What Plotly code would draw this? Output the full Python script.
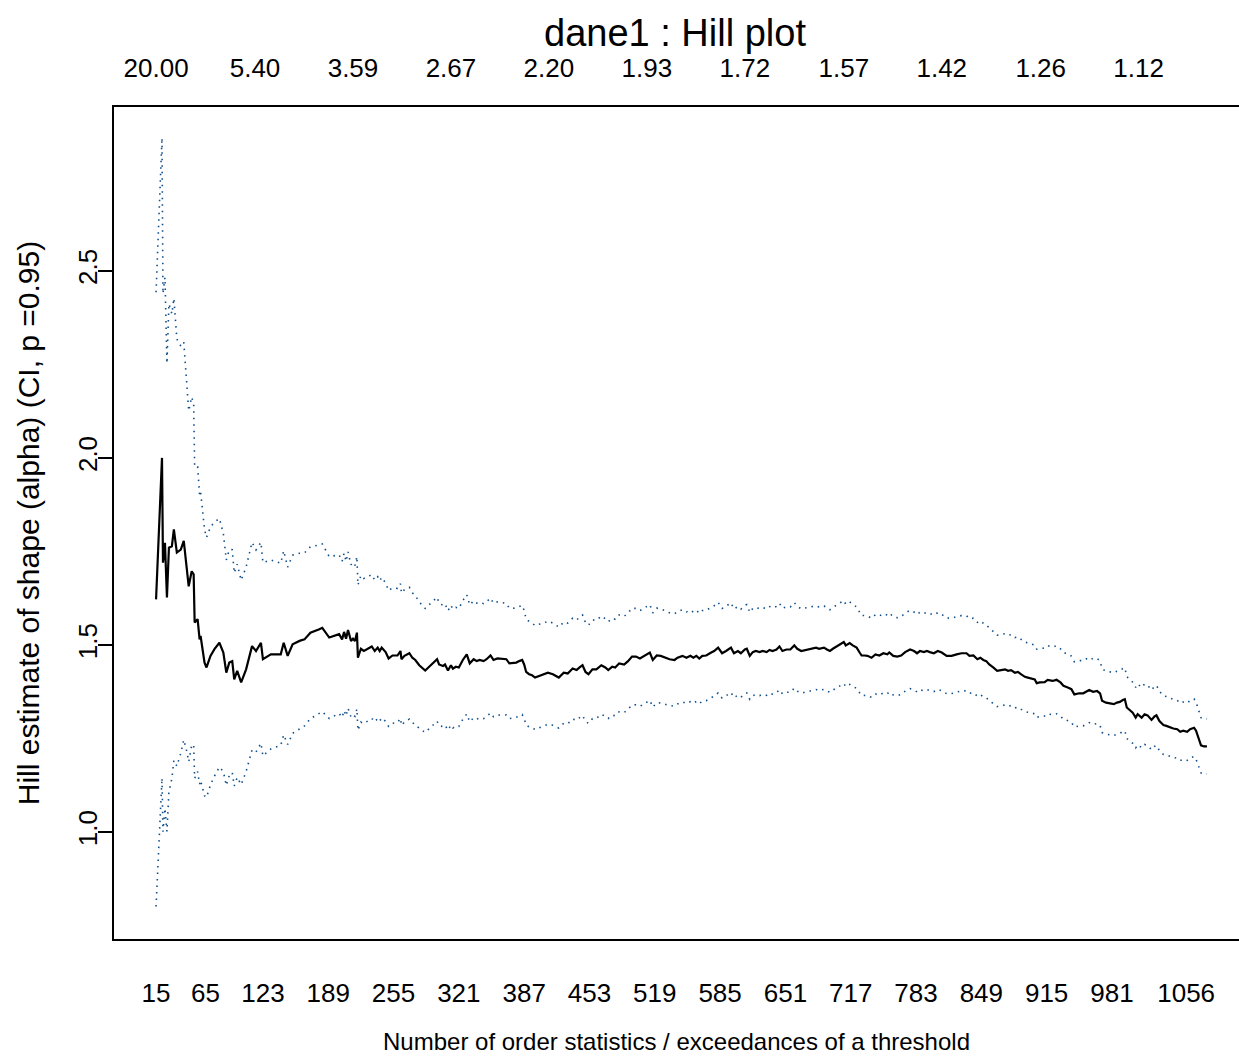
import numpy as np
from statistics import NormalDist
import plotly.graph_objects as go

# Hill estimator of the tail index alpha against the number of order statistics k
k = [15, 21, 22, 24, 26, 28, 31, 33, 36, 40, 43, 46, 48, 51, 53, 54, 57, 59, 60, 64,
     66, 70, 74, 79, 83, 86, 89, 92, 94, 97, 101, 106, 112, 116, 121, 123, 131, 136, 141, 144,
     148, 153, 160, 165, 171, 180, 183, 190,
     200, 203, 205, 207, 209, 212, 214, 216, 218, 219, 222, 225, 229, 233, 236, 239, 241, 243,
     247, 250, 254, 259, 262, 263, 266, 271, 274, 277, 281, 284, 287, 291, 295, 299, 301, 305,
     307, 310, 313, 315, 318, 321, 325, 329, 332, 336, 339, 342, 346, 349, 353, 356, 360, 365,
     369, 372, 375, 379, 382, 385, 387, 389, 392, 395, 398, 402, 406, 411, 416, 419, 422, 427,
     431, 436, 440, 443,
     446, 449, 452, 456, 460, 465, 469, 472, 476, 479, 483, 488, 492, 496, 500, 504, 508, 514,
     517, 521, 525, 530, 534, 539, 542, 547, 551, 555, 558, 561, 564, 567, 571, 576, 579, 583,
     587, 591, 596, 599, 603, 606, 610, 612, 615, 618, 621, 625, 628, 632, 635, 638, 642, 645,
     648, 652, 656, 660, 663, 667, 672, 675,
     678, 682, 685, 690, 693, 696, 699, 703, 706, 710, 712, 716, 719, 723, 726, 728, 731, 734,
     738, 742, 746, 750, 754, 756, 760, 764, 768, 772, 777, 781, 784, 787, 791, 794, 797, 801,
     805, 809, 814, 819, 824, 829, 834, 837, 841, 845, 848, 851, 854, 857, 861, 865, 869, 873,
     876, 879, 883, 886, 889, 893, 896, 899, 903, 905, 908,
     913, 916, 921, 925, 929, 932, 937, 940, 943, 948, 952, 955, 958, 962, 966, 969, 971, 975,
     979, 983, 986, 989, 992, 994, 996, 999, 1002, 1005, 1007, 1011, 1014, 1017, 1021, 1024,
     1026, 1029, 1033, 1036, 1040, 1043, 1047, 1050, 1053, 1057, 1060, 1064, 1066, 1069, 1071,
     1074, 1077]

alpha = [1.622, 2.000, 1.720, 1.773, 1.627, 1.760, 1.764, 1.809, 1.747, 1.755, 1.778, 1.711,
         1.657, 1.697, 1.689, 1.560, 1.569, 1.515, 1.524, 1.453, 1.440, 1.471, 1.489, 1.506,
         1.480, 1.426, 1.453, 1.457, 1.408, 1.431, 1.400, 1.435, 1.497, 1.484, 1.506, 1.462,
         1.475, 1.475, 1.475, 1.506, 1.471, 1.502, 1.511, 1.515, 1.533, 1.542, 1.546, 1.520,
         1.529, 1.515, 1.535, 1.517, 1.540, 1.511, 1.517, 1.511, 1.533, 1.466, 1.490, 1.484,
         1.490, 1.496, 1.484, 1.493, 1.484, 1.493, 1.481, 1.464, 1.472, 1.472, 1.484, 1.462,
         1.471, 1.478, 1.466, 1.460, 1.446, 1.440, 1.432, 1.442, 1.451, 1.462, 1.448, 1.444,
         1.448, 1.432, 1.446, 1.437, 1.442, 1.440, 1.460, 1.475, 1.451, 1.462, 1.457, 1.460,
         1.457, 1.462, 1.472, 1.460, 1.464, 1.462, 1.462, 1.451, 1.451, 1.453, 1.457, 1.460,
         1.448, 1.428, 1.422, 1.419, 1.413, 1.417, 1.419, 1.426, 1.422, 1.417, 1.413, 1.426,
         1.424, 1.437, 1.433, 1.440,
         1.446, 1.428, 1.422, 1.435, 1.435, 1.446, 1.440, 1.433, 1.442, 1.440, 1.451, 1.448,
         1.457, 1.469, 1.469, 1.464, 1.471, 1.480, 1.460, 1.472, 1.471, 1.466, 1.462, 1.460,
         1.466, 1.471, 1.466, 1.471, 1.466, 1.471, 1.464, 1.471, 1.472, 1.480, 1.484, 1.493,
         1.478, 1.484, 1.493, 1.478, 1.484, 1.478, 1.488, 1.490, 1.471, 1.481, 1.484, 1.481,
         1.484, 1.481, 1.487, 1.484, 1.488, 1.496, 1.484, 1.488, 1.488, 1.499, 1.490, 1.484,
         1.487, 1.487,
         1.490, 1.493, 1.490, 1.493, 1.488, 1.484, 1.490, 1.496, 1.502, 1.508, 1.499, 1.505,
         1.499, 1.493, 1.480, 1.472, 1.472, 1.471, 1.466, 1.475, 1.472, 1.478, 1.475, 1.480,
         1.471, 1.469, 1.472, 1.481, 1.488, 1.484, 1.478, 1.484, 1.481, 1.484, 1.481, 1.478,
         1.484, 1.480, 1.471, 1.471, 1.475, 1.478, 1.478, 1.471, 1.472, 1.462, 1.466, 1.460,
         1.457, 1.448, 1.440, 1.431, 1.433, 1.435, 1.431, 1.433, 1.426, 1.428, 1.422, 1.415,
         1.413, 1.410, 1.408, 1.398, 1.400,
         1.401, 1.407, 1.404, 1.407, 1.400, 1.391, 1.386, 1.382, 1.368, 1.371, 1.371, 1.375,
         1.380, 1.375, 1.377, 1.371, 1.351, 1.346, 1.344, 1.342, 1.346, 1.348, 1.353, 1.355,
         1.333, 1.327, 1.319, 1.306, 1.315, 1.306, 1.315, 1.312, 1.300, 1.309, 1.312, 1.297,
         1.286, 1.284, 1.279, 1.277, 1.275, 1.268, 1.271, 1.268, 1.275, 1.279, 1.271, 1.250,
         1.232, 1.229, 1.229]

# labels along the bottom (k) and top (threshold) axes
bottom_ticks = [15, 65, 123, 189, 255, 321, 387, 453, 519, 585, 651, 717, 783, 849, 915, 981, 1056]
top_tick_pos = [15, 115, 214, 313, 412, 511, 610, 710, 809, 909, 1008]
top_tick_text = ["20.00", "5.40", "3.59", "2.67", "2.20", "1.93", "1.72", "1.57", "1.42", "1.26", "1.12"]
y_ticks = [1.0, 1.5, 2.0, 2.5]
ci_level = 0.95

# normal-approximation confidence band: alpha +/- z * alpha / sqrt(k)
k_arr = np.array(k, dtype=float)
a_arr = np.array(alpha)
z = NormalDist().inv_cdf(1 - (1 - ci_level) / 2)
se = a_arr / np.sqrt(k_arr)
upper = a_arr + z * se
lower = a_arr - z * se

FONT = "Liberation Sans, Arial, Helvetica, sans-serif"
CI_COLOR = "#104E8B"
TICK_SIZE = 26

fig = go.Figure()
fig.add_trace(go.Scatter(x=k, y=upper, mode="lines", hoverinfo="skip",
                         line=dict(color=CI_COLOR, width=1.6, dash="1.5px,5px")))
fig.add_trace(go.Scatter(x=k, y=lower, mode="lines", hoverinfo="skip",
                         line=dict(color=CI_COLOR, width=1.6, dash="1.5px,5px")))
fig.add_trace(go.Scatter(x=k, y=alpha, mode="lines",
                         line=dict(color="black", width=2.2)))
# carrier trace so the threshold axis on top is drawn
fig.add_trace(go.Scatter(x=k, y=alpha, xaxis="x2", mode="lines", opacity=0,
                         hoverinfo="skip", line=dict(width=0)))

x_range = [-27.5, 1109.4]
y_range = [0.7144, 2.9377]

fig.update_layout(
    width=1239, height=1062,
    margin=dict(l=114, r=0, t=107, b=123),
    paper_bgcolor="white", plot_bgcolor="white",
    showlegend=False,
    font=dict(family=FONT, size=24, color="black"),
    title=dict(text="dane1 : Hill plot", xref="container", yref="container",
               x=675 / 1239, y=1 - 33 / 1062, xanchor="center", yanchor="middle",
               font=dict(size=38, family=FONT, color="black")),
    xaxis=dict(range=x_range, tickmode="array", tickvals=bottom_ticks,
               ticktext=[str(v) for v in bottom_ticks], ticks="",
               tickfont=dict(size=TICK_SIZE),
               showgrid=False, zeroline=False, showline=True, linecolor="black",
               linewidth=2, ticklabelstandoff=30,
               title=dict(text="Number of order statistics / exceedances of a threshold",
                          standoff=26, font=dict(size=24))),
    xaxis2=dict(range=x_range, overlaying="x", side="top", anchor="y",
                tickmode="array", tickvals=top_tick_pos, ticktext=top_tick_text,
                tickfont=dict(size=TICK_SIZE),
                ticks="", showgrid=False, zeroline=False, showline=True,
                linecolor="black", linewidth=2, ticklabelstandoff=18),
    yaxis=dict(range=y_range, tickmode="array", tickvals=y_ticks,
               ticktext=[f"{v:.1f}" for v in y_ticks], ticks="outside",
               tickfont=dict(size=TICK_SIZE),
               ticklen=14, tickwidth=2, tickcolor="black", tickangle=-90,
               ticklabelstandoff=-9,
               showgrid=False, zeroline=False, showline=True, linecolor="black",
               linewidth=2,
               title=dict(text="Hill estimate of shape (alpha) (CI, p =0.95)",
                          standoff=24, font=dict(size=30))),
)

fig.write_html("out.html")
